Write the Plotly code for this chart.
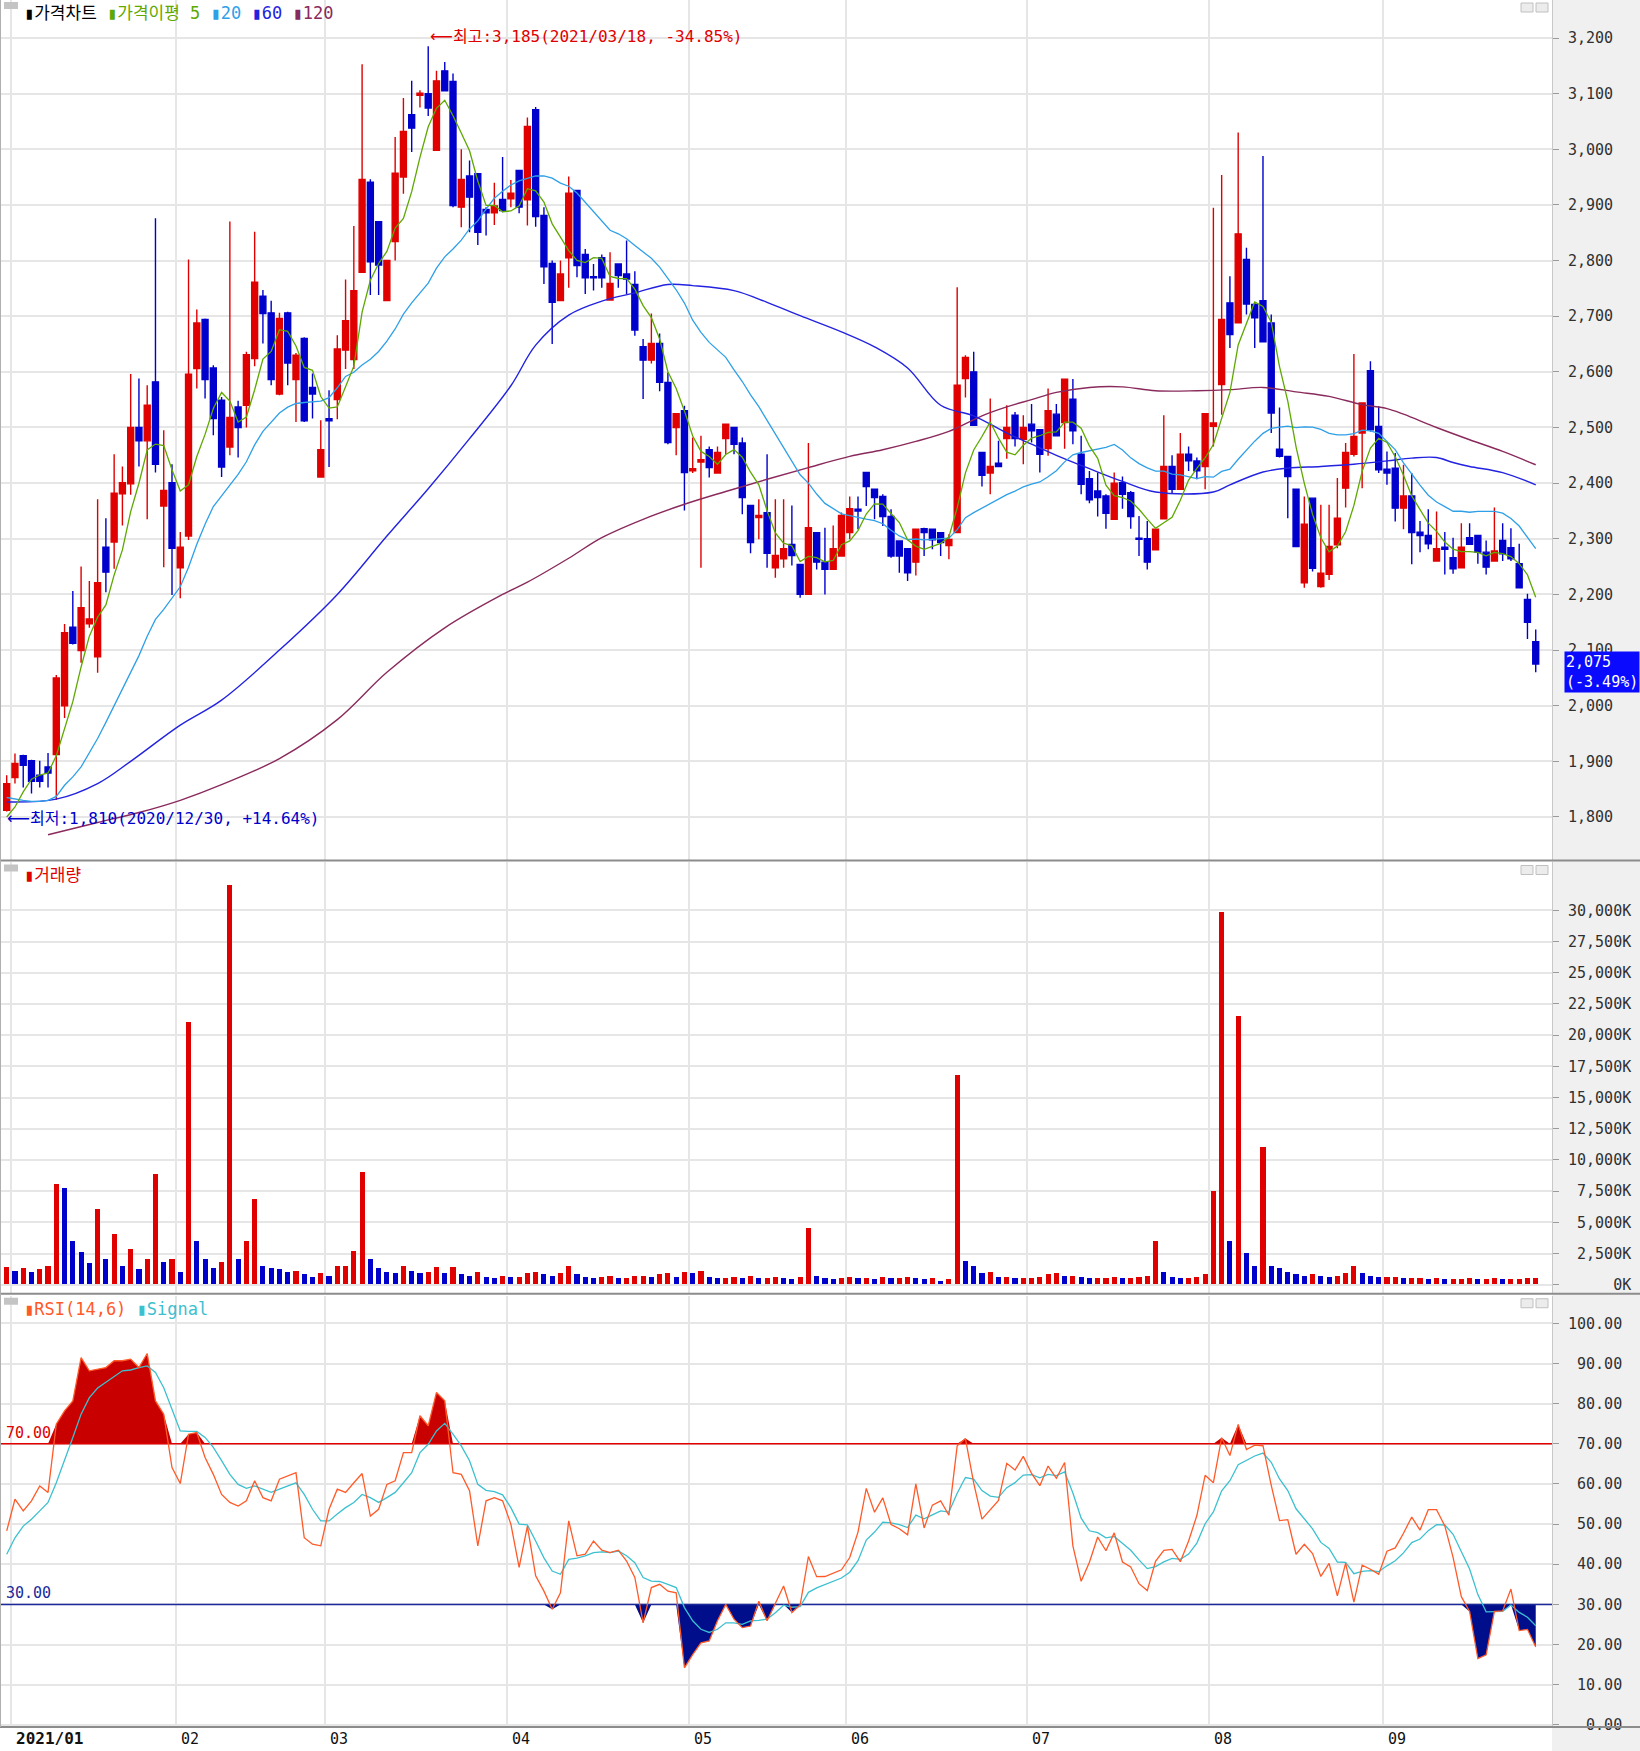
import pandas as pd
import plotly.graph_objects as go

# ------------------------------------------------------------------ data
holidays = ["2021-02-11", "2021-02-12", "2021-03-01", "2021-05-05", "2021-05-19",
            "2021-08-16", "2021-09-20", "2021-09-21", "2021-09-22"]
trade_dates = ["2020-12-30"] + [d.strftime("%Y-%m-%d") for d in
                                pd.bdate_range("2021-01-04", "2021-09-30", freq="C", holidays=holidays)]

open_ = [1812, 1871, 1910, 1901, 1875, 1890, 1912, 2000, 2141, 2099, 2147, 2088, 2285, 2294, 2381, 2399, 2500, 2476, 2582, 2359, 2401,
         2248, 2305, 2606, 2694, 2607, 2549, 2465, 2537, 2540, 2624, 2736, 2706, 2560, 2706, 2586, 2660, 2572, 2411,
         2516, 2550, 2639, 2622, 2779, 2941, 2870, 2728, 2834, 2950, 3062, 3097, 3100, 2998, 3141, 3122, 2896, 2952, 2956, 2892, 2886, 2910,
         2911, 2962, 2909, 3071, 2881, 2795, 2728, 2805, 2926, 2811, 2771, 2805, 2729, 2794, 2776, 2757, 2645, 2621, 2651, 2581, 2500, 2530,
         2422, 2438, 2460, 2418, 2480, 2500, 2472, 2360, 2338, 2347, 2248, 2264, 2290, 2254, 2200, 2311, 2258, 2245, 2269,
         2311, 2353, 2419, 2389, 2376, 2340, 2296, 2282, 2258, 2318, 2317, 2311, 2288, 2311, 2588, 2600, 2455, 2418, 2436, 2480, 2522, 2479,
         2506, 2496, 2462, 2524, 2509, 2551, 2452, 2408, 2386, 2377, 2335, 2401, 2383, 2301, 2300, 2280, 2336, 2430, 2389, 2452, 2440, 2430,
         2502, 2577, 2724, 2688, 2802, 2721, 2728, 2688, 2461, 2448, 2389, 2221, 2373, 2214, 2236, 2289, 2391, 2452, 2490, 2602, 2502,
         2425, 2427, 2355, 2377, 2312, 2306, 2260, 2285, 2266, 2248, 2302, 2306, 2276, 2260, 2297, 2284, 2255, 2191, 2115]
high = [1875, 1914, 1912, 1903, 1901, 1915, 2055, 2147, 2206, 2250, 2224, 2371, 2337, 2452, 2430, 2596, 2588, 2576, 2876, 2495, 2434,
        2312, 2802, 2712, 2696, 2612, 2555, 2870, 2548, 2636, 2852, 2747, 2728, 2706, 2708, 2634, 2662, 2597, 2513,
        2567, 2666, 2766, 2862, 3153, 2946, 2871, 2801, 3022, 3092, 3123, 3106, 3185, 3141, 3157, 3136, 3000, 2980, 2957, 2896, 2940, 2986,
        2945, 2962, 3057, 3076, 2896, 2800, 2800, 2951, 2927, 2821, 2794, 2811, 2815, 2795, 2836, 2781, 2659, 2705, 2669, 2599, 2526, 2539,
        2482, 2485, 2466, 2466, 2507, 2501, 2482, 2361, 2371, 2452, 2371, 2371, 2360, 2255, 2472, 2312, 2320, 2324, 2347,
        2376, 2376, 2420, 2390, 2380, 2353, 2297, 2283, 2318, 2320, 2318, 2312, 2308, 2752, 2630, 2636, 2456, 2552, 2476, 2540, 2528, 2522,
        2542, 2497, 2570, 2542, 2588, 2587, 2485, 2422, 2419, 2380, 2419, 2412, 2386, 2341, 2332, 2318, 2522, 2450, 2490, 2466, 2446, 2526,
        2895, 2954, 2772, 3030, 2823, 2724, 2988, 2703, 2536, 2449, 2390, 2376, 2374, 2361, 2361, 2409, 2472, 2632, 2545, 2619, 2538,
        2457, 2454, 2433, 2418, 2332, 2353, 2349, 2312, 2302, 2328, 2328, 2307, 2297, 2356, 2328, 2319, 2291, 2201, 2137]
low = [1810, 1860, 1853, 1842, 1853, 1853, 1831, 1978, 2110, 2077, 2140, 2059, 2204, 2246, 2324, 2379, 2430, 2335, 2419, 2249, 2199,
       2193, 2298, 2570, 2552, 2486, 2411, 2450, 2446, 2500, 2610, 2651, 2576, 2558, 2576, 2510, 2510, 2516, 2410,
       2429, 2515, 2605, 2605, 2778, 2738, 2738, 2727, 2800, 2920, 2995, 3075, 3060, 2998, 3104, 2896, 2860, 2851, 2828, 2845, 2864, 2887,
       2896, 2885, 2863, 2861, 2758, 2650, 2727, 2751, 2770, 2740, 2746, 2751, 2728, 2751, 2740, 2665, 2551, 2615, 2565, 2470, 2450, 2351,
       2418, 2248, 2410, 2417, 2452, 2452, 2344, 2274, 2299, 2248, 2230, 2248, 2252, 2194, 2199, 2245, 2200, 2244, 2268,
       2299, 2317, 2359, 2335, 2323, 2266, 2239, 2224, 2234, 2269, 2281, 2269, 2263, 2310, 2554, 2503, 2394, 2380, 2429, 2444, 2466, 2434,
       2473, 2419, 2449, 2484, 2462, 2470, 2380, 2364, 2340, 2318, 2334, 2354, 2318, 2269, 2245, 2279, 2335, 2382, 2388, 2422, 2407, 2389,
       2466, 2523, 2643, 2687, 2703, 2643, 2653, 2490, 2446, 2337, 2285, 2212, 2241, 2212, 2226, 2283, 2356, 2448, 2391, 2493, 2418,
       2397, 2331, 2317, 2254, 2276, 2281, 2259, 2236, 2237, 2247, 2289, 2255, 2236, 2259, 2260, 2260, 2211, 2120, 2060]
close = [1860, 1896, 1893, 1864, 1864, 1879, 2050, 2131, 2112, 2176, 2156, 2221, 2240, 2382, 2401, 2500, 2476, 2540, 2434, 2387, 2283,
         2285, 2596, 2688, 2586, 2516, 2429, 2518, 2500, 2631, 2761, 2705, 2586, 2696, 2616, 2630, 2512, 2560, 2460,
         2512, 2641, 2692, 2746, 2946, 2798, 2792, 2800, 2957, 3032, 3038, 3101, 3074, 3123, 3105, 2899, 2946, 2914, 2851, 2886, 2898, 2890,
         2921, 2896, 3041, 2879, 2789, 2725, 2776, 2921, 2791, 2769, 2769, 2769, 2759, 2773, 2767, 2675, 2621, 2651, 2581, 2473, 2525, 2419,
         2426, 2442, 2428, 2455, 2506, 2470, 2374, 2293, 2342, 2274, 2270, 2282, 2270, 2200, 2320, 2258, 2245, 2282, 2342,
         2354, 2350, 2394, 2374, 2340, 2269, 2269, 2239, 2317, 2311, 2298, 2293, 2299, 2576, 2626, 2504, 2414, 2430, 2430, 2500, 2480, 2500,
         2494, 2452, 2530, 2485, 2587, 2494, 2398, 2370, 2374, 2346, 2400, 2380, 2340, 2299, 2258, 2317, 2430, 2389, 2452, 2440, 2422, 2525,
         2508, 2694, 2667, 2848, 2722, 2697, 2654, 2526, 2448, 2412, 2286, 2326, 2247, 2238, 2286, 2337, 2455, 2484, 2544, 2496, 2424,
         2418, 2355, 2377, 2311, 2306, 2291, 2282, 2281, 2246, 2285, 2290, 2276, 2249, 2278, 2273, 2264, 2212, 2150, 2075]
volume_k = [1400, 1100, 1300, 1000, 1200, 1500, 8000, 7700, 3500, 2600, 1700, 6000, 2000, 4000, 1500, 2800, 1200, 2000, 8800, 1800, 2000,
            1000, 21000, 3500, 2000, 1300, 1800, 32000, 2000, 3500, 6800, 1500, 1300, 1200, 1000, 1100, 800, 600, 900,
            700, 1500, 1500, 2700, 9000, 2000, 1300, 1000, 900, 1500, 1100, 900, 1000, 1400, 900, 1400, 800, 700, 1000, 600, 500, 700,
            600, 600, 900, 1000, 800, 700, 900, 1500, 800, 600, 500, 600, 700, 500, 500, 700, 700, 600, 800, 900, 600, 1000,
            900, 1100, 600, 500, 500, 600, 500, 700, 500, 500, 600, 500, 400, 600, 4500, 700, 500, 400, 500,
            600, 500, 500, 400, 600, 500, 500, 600, 500, 400, 500, 300, 400, 16800, 1900, 1500, 900, 1000, 600, 600, 500, 500,
            500, 600, 800, 900, 700, 700, 600, 500, 500, 500, 600, 500, 500, 600, 700, 3500, 1000, 600, 500, 500, 600, 800,
            7500, 29800, 3500, 21500, 2500, 1500, 11000, 1500, 1300, 1000, 800, 700, 800, 700, 600, 700, 900, 1500, 900, 700, 600,
            600, 600, 500, 500, 500, 400, 500, 400, 400, 400, 500, 400, 400, 500, 400, 400, 400, 500, 500]

ma5_head = [1800, 1818, 1845, 1868]
ma20_head = [1835, 1832, 1830, 1828, 1828, 1830, 1837, 1857, 1872, 1890, 1915, 1941, 1970, 2000, 2030, 2058, 2090, 2125, 2155]
ma60_idx = [0, 6, 11, 15, 21, 26, 33, 40, 46, 51, 56, 61, 64, 68, 72, 76, 80, 83, 88, 92, 96, 101, 105, 109, 113, 117,
            121, 124, 127, 131, 135, 139, 146, 148, 152, 155, 159, 163, 167, 170, 173, 175, 177, 181, 185]
ma60_val = [1827, 1832, 1860, 1900, 1965, 2010, 2100, 2200, 2305, 2390, 2480, 2575, 2648, 2702, 2727, 2742, 2757, 2755, 2746,
            2725, 2701, 2672, 2645, 2607, 2540, 2521, 2490, 2470, 2450, 2426, 2403, 2384, 2384, 2397, 2420, 2427, 2430, 2434,
            2440, 2445, 2446, 2437, 2430, 2419, 2397]
ma120_idx = [5, 11, 16, 21, 26, 33, 40, 46, 53, 60, 63, 68, 72, 77, 82, 87, 92, 97, 102, 106, 110, 114, 118, 121, 124, 127,
             131, 135, 139, 144, 148, 152, 156, 160, 164, 167, 169, 173, 177, 181, 185]
ma120_val = [1768, 1790, 1808, 1830, 1858, 1905, 1975, 2060, 2140, 2200, 2222, 2265, 2302, 2335, 2362, 2385, 2407, 2428, 2448,
             2460, 2475, 2493, 2521, 2537, 2550, 2563, 2572, 2573, 2566, 2566, 2568, 2572, 2564, 2556, 2541, 2534, 2524, 2500,
             2478, 2457, 2433]

# RSI(14) and its signal (first 94 sessions)
rsi_read = [48.3, 56.2, 53.3, 55.8, 59.5, 57.9, 74.9, 78.2, 80.7, 91.5, 88.2, 88.6, 89.0, 90.7, 90.7, 91.1, 89.0, 92.5, 80.7, 77.4,
            64.1, 60.1, 72.4, 72.8, 66.6, 62.4, 57.4, 55.4, 54.5, 55.8, 60.8, 56.6, 55.8, 61.2, 62.0, 62.8, 46.6, 45.0, 44.6, 53.7,
            58.7, 57.9, 60.3, 62.6, 52.0, 53.7, 59.9, 60.8, 67.8, 67.8, 77.0, 74.5, 82.8, 80.7, 62.8, 62.4, 58.3, 44.6, 55.8, 56.6,
            55.8, 50.0, 39.2, 49.5, 37.1, 33.3, 28.8, 32.9, 50.8, 42.1, 42.5, 45.8, 43.5, 42.9, 43.5, 40.8, 36.7, 25.4, 34.2, 35.0,
            33.3, 32.9, 14.2, 17.5, 20.4, 20.9, 25.9, 30.0, 26.3, 24.2, 24.6, 30.8, 25.9, 30.4]
signal_read = [42.5, 46.6, 49.5, 51.2, 53.3, 55.4, 60.3, 66.2, 71.6, 77.4, 81.5, 83.9, 85.3, 86.9, 88.2, 88.4, 89.0, 89.4, 87.8,
               84.0, 78.6, 73.2, 73.1, 73.1, 71.6, 69.1, 65.8, 62.4, 59.9, 58.9, 59.5, 58.7, 57.9, 58.7, 59.5, 60.3, 57.4, 53.7,
               50.8, 50.8, 52.5, 54.1, 55.4, 57.4, 56.6, 55.4, 56.6, 57.9, 60.3, 62.8, 67.8, 69.9, 73.2, 75.1, 72.4, 69.5, 65.8,
               59.9, 58.4, 58.1, 57.3, 54.1, 50.0, 49.8, 45.8, 41.6, 38.3, 37.5, 41.2, 41.5, 42.1, 42.9, 43.1, 42.9, 43.3, 42.1,
               40.4, 36.7, 35.8, 35.7, 35.0, 34.2, 29.2, 25.9, 23.8, 23.0, 23.8, 25.4, 25.4, 25.0, 25.9, 26.0, 26.3, 27.9]

month_labels = ["2021/01", "02", "03", "04", "05", "06", "07", "08", "09"]
price_ticks = list(range(1800, 3201, 100))
vol_ticks = list(range(0, 30001, 2500))
rsi_ticks = list(range(0, 101, 10))

# ------------------------------------------------------------------ derived
n = len(close)
xi = list(range(n))
cs = pd.Series(close, dtype=float)
ma5 = list(ma5_head) + [float(v) for v in cs.rolling(5).mean()[len(ma5_head):]]
ma20 = list(ma20_head) + [float(v) for v in cs.rolling(20).mean()[len(ma20_head):]]
# the chart's RSI is the simple (14-session sum) form; used for sessions past the read-off part
d = cs.diff()
gain = d.clip(lower=0).rolling(14).sum()
move = d.abs().rolling(14).sum()
rsi_calc = 100 * gain / move
rsi = list(rsi_read) + [float(v) for v in rsi_calc[len(rsi_read):]]
sig = list(signal_read)
for v in rsi[len(signal_read):]:
    sig.append(sig[-1] + (v - sig[-1]) * 2 / 7)
signal = sig

vol_colors = ["#e00000" if i == 0 or volume_k[i] >= volume_k[i - 1] else "#0000cc" for i in range(n)]
months = [s[:7] for s in trade_dates]
month_starts = [i for i in range(1, n) if months[i] != months[i - 1]]

# ------------------------------------------------------------------ layout constants
W, H = 1640, 1751          # reference pixel grid used for all paper fractions
FIG_H = 1760               # rendered height (the page photo is taken over this height)
XD = 1552 / W
X_RANGE = [-6.7 / 8.265, (1552 - 6.7) / 8.265]
def py(top, bot):
    return [1 - bot / H, 1 - top / H]

RED, BLUE = "#e00000", "#0000cc"
C5, C20, C60, C120 = "#5ea800", "#2ea0e8", "#2222e0", "#8a2a5c"
GRID = "#e6e6e6"
MONO = "DejaVu Sans Mono"
TXT = "DejaVu Sans Mono, Noto Sans CJK KR"
ARROW = "<span style='font-family:DejaVu Sans'>⟵</span>"

fig = go.Figure()

# price panel
fig.add_trace(go.Candlestick(x=xi, open=open_, high=high, low=low, close=close,
                             increasing=dict(line=dict(color=RED, width=1.4), fillcolor=RED),
                             decreasing=dict(line=dict(color=BLUE, width=1.4), fillcolor=BLUE),
                             whiskerwidth=0, xaxis="x", yaxis="y", hoverinfo="skip"))
fig.add_trace(go.Scatter(x=ma120_idx, y=ma120_val, mode="lines", line=dict(color=C120, width=1.4, shape="spline"),
                         xaxis="x", yaxis="y"))
fig.add_trace(go.Scatter(x=ma60_idx, y=ma60_val, mode="lines", line=dict(color=C60, width=1.4, shape="spline"),
                         xaxis="x", yaxis="y"))
fig.add_trace(go.Scatter(x=xi, y=ma20, mode="lines", line=dict(color=C20, width=1.3), xaxis="x", yaxis="y"))
fig.add_trace(go.Scatter(x=xi, y=ma5, mode="lines", line=dict(color=C5, width=1.3), xaxis="x", yaxis="y"))

# volume panel
fig.add_trace(go.Bar(x=xi, y=volume_k, marker=dict(color=vol_colors, line=dict(width=0)), width=0.62,
                     xaxis="x2", yaxis="y2"))

# RSI panel
rsi_hi = [max(v, 70) for v in rsi]
rsi_lo = [min(v, 30) for v in rsi]
fig.add_trace(go.Scatter(x=xi, y=[70] * n, mode="lines", line=dict(width=0), xaxis="x3", yaxis="y3"))
fig.add_trace(go.Scatter(x=xi, y=rsi_hi, mode="lines", line=dict(width=0), fill="tonexty", fillcolor="#c80000",
                         xaxis="x3", yaxis="y3"))
fig.add_trace(go.Scatter(x=xi, y=[30] * n, mode="lines", line=dict(width=0), xaxis="x3", yaxis="y3"))
fig.add_trace(go.Scatter(x=xi, y=rsi_lo, mode="lines", line=dict(width=0), fill="tonexty", fillcolor="#000e8c",
                         xaxis="x3", yaxis="y3"))
fig.add_trace(go.Scatter(x=[X_RANGE[0], X_RANGE[1]], y=[70, 70], mode="lines", line=dict(color="#e00000", width=1.5),
                         xaxis="x3", yaxis="y3"))
fig.add_trace(go.Scatter(x=[X_RANGE[0], X_RANGE[1]], y=[30, 30], mode="lines", line=dict(color="#1a2a9a", width=1.5),
                         xaxis="x3", yaxis="y3"))
fig.add_trace(go.Scatter(x=xi, y=signal, mode="lines", line=dict(color="#3cc0d0", width=1.3), xaxis="x3", yaxis="y3"))
fig.add_trace(go.Scatter(x=xi, y=rsi, mode="lines", line=dict(color="#ff5a28", width=1.3), xaxis="x3", yaxis="y3"))

# ------------------------------------------------------------------ axes
grid_x = [m - 0.5 for m in month_starts]
xcommon = dict(range=X_RANGE, domain=[0, XD], showticklabels=False, ticks="", tickvals=grid_x,
               showgrid=True, gridcolor=GRID, gridwidth=1.5, zeroline=False, showline=False)
def fmt_ticks(vals, fmt, width):
    return [fmt(v).rjust(width).replace(" ", "\u00a0") for v in vals]

ycommon = dict(side="right", showgrid=True, gridcolor=GRID, gridwidth=1.5, zeroline=False,
               ticks="outside", ticklen=6, tickcolor="#9a9a9a", tickwidth=1,
               showline=True, linecolor="#c8c8c8", linewidth=1,
               tickfont=dict(family=MONO, size=15, color="#303030"), ticklabelstandoff=6)

fig.update_layout(
    width=W, height=FIG_H, margin=dict(l=0, r=0, t=0, b=0),
    paper_bgcolor="white", plot_bgcolor="white", showlegend=False, bargap=0,
    boxgap=0.1, boxgroupgap=0.2,
    xaxis=dict(**xcommon, anchor="y", rangeslider=dict(visible=False)),
    xaxis2=dict(**xcommon, anchor="y2", matches="x"),
    xaxis3=dict(**xcommon, anchor="y3", matches="x"),
    yaxis=dict(**ycommon, domain=py(0, 860), range=[1721.8, 3268.3], tickvals=price_ticks,
               ticktext=fmt_ticks(price_ticks, lambda v: f"{v:,}", 5), anchor="x"),
    yaxis2=dict(**ycommon, domain=py(862, 1292), range=[-640, 33840], tickvals=vol_ticks,
                ticktext=fmt_ticks(vol_ticks, lambda v: f"{v:,}K", 7), anchor="x2"),
    yaxis3=dict(**ycommon, domain=py(1295, 1725), range=[-0.3, 106.9], tickvals=rsi_ticks,
                ticktext=fmt_ticks(rsi_ticks, lambda v: f"{v:.2f}", 6), anchor="x3"),
)

# ------------------------------------------------------------------ decorations (paper shapes)
shapes = [dict(type="rect", xref="paper", yref="paper", x0=XD, x1=1, y0=0, y1=1, fillcolor="#f0f0f0",
               line=dict(width=0), layer="below")]
for yy in (860, 1293, 1726):
    shapes.append(dict(type="line", xref="paper", yref="paper", x0=0, x1=1, y0=1 - yy / H, y1=1 - yy / H,
                       line=dict(color="#8c8c8c", width=2)))
shapes.append(dict(type="line", xref="paper", yref="paper", x0=0.5 / W, x1=0.5 / W, y0=1 - 1726 / H, y1=1,
                   line=dict(color="#b0b0b0", width=1)))
for top in (0, 862, 1295):
    shapes.append(dict(type="rect", xref="paper", yref="paper", x0=4 / W, x1=18 / W,
                       y0=1 - (top + 9) / H, y1=1 - (top + 2) / H, fillcolor="#c4c4c4", line=dict(width=0)))
    for x0 in (1521, 1536):
        shapes.append(dict(type="rect", xref="paper", yref="paper", x0=x0 / W, x1=(x0 + 12) / W,
                           y0=1 - (top + 12) / H, y1=1 - (top + 3) / H, fillcolor="#ececec",
                           line=dict(color="#c0c0c0", width=1)))
fig.update_layout(shapes=shapes)

# ------------------------------------------------------------------ annotations
ann = []
ann.append(dict(xref="paper", yref="paper", x=22 / W, y=1 - 1 / H, xanchor="left", yanchor="top", showarrow=False,
                font=dict(family=TXT, size=17, color="#000"),
                text=("<span style='color:#000000'>▮가격차트</span> "
                      f"<span style='color:{C5}'>▮가격이평 5</span> "
                      f"<span style='color:{C20}'>▮20</span> "
                      f"<span style='color:{C60}'>▮60</span> "
                      f"<span style='color:{C120}'>▮120</span>")))
ann.append(dict(xref="paper", yref="paper", x=22 / W, y=1 - 863 / H, xanchor="left", yanchor="top", showarrow=False,
                font=dict(family=TXT, size=17, color=RED), text="▮거래량"))
ann.append(dict(xref="paper", yref="paper", x=22 / W, y=1 - 1296 / H, xanchor="left", yanchor="top", showarrow=False,
                font=dict(family=TXT, size=17),
                text="<span style='color:#ff5a28'>▮RSI(14,6)</span> <span style='color:#3cc0d0'>▮Signal</span>"))

hi_i = max(range(n), key=lambda i: high[i])
lo_i = min(range(n), key=lambda i: low[i])
last = close[-1]
ann.append(dict(xref="x", yref="y", x=hi_i, y=high[hi_i], xanchor="left", yanchor="middle", yshift=10, showarrow=False,
                font=dict(family=TXT, size=16, color=RED),
                text=f"{ARROW}최고:{high[hi_i]:,}({trade_dates[hi_i].replace('-', '/')}, {(last / high[hi_i] - 1) * 100:.2f}%)"))
ann.append(dict(xref="x", yref="y", x=lo_i - 0.2, y=low[lo_i], xanchor="left", yanchor="middle", yshift=-7, showarrow=False,
                font=dict(family=TXT, size=16, color="#0000cc"),
                text=f"{ARROW}최저:{low[lo_i]:,}({trade_dates[lo_i].replace('-', '/')}, +{(last / low[lo_i] - 1) * 100:.2f}%)"))
ann.append(dict(xref="paper", yref="y", x=1564 / W, y=last, xanchor="left", yanchor="middle", yshift=-8, showarrow=False,
                align="left", bgcolor="#0a0aff", borderpad=1, font=dict(family=MONO, size=15, color="white"),
                text=f"{last:,}<br>({(last / close[-2] - 1) * 100:.2f}%)"))
ann.append(dict(xref="paper", yref="y3", x=4 / W, y=70, xanchor="left", yanchor="bottom", showarrow=False,
                font=dict(family=MONO, size=15, color="#e00000"), text="70.00"))
ann.append(dict(xref="paper", yref="y3", x=4 / W, y=30, xanchor="left", yanchor="bottom", showarrow=False,
                font=dict(family=MONO, size=15, color="#1a2a9a"), text="30.00"))
for k, m in enumerate(month_starts):
    lab = month_labels[k]
    ann.append(dict(xref="x3", yref="paper", x=m - 0.5, y=1 - 1738 / H, xanchor="left", yanchor="middle",
                    xshift=3, showarrow=False,
                    font=dict(family=MONO, size=16 if k == 0 else 15, color="#111"),
                    text=f"<b>{lab}</b>" if k == 0 else lab))
fig.update_layout(annotations=ann)

css = ("var s=document.createElement('style');"
       "s.textContent='html,body{margin:0!important;padding:0!important;overflow:hidden;}';"
       "document.head.appendChild(s);")
fig.write_html("out.html", config={"displayModeBar": False, "responsive": False}, post_script=css)
